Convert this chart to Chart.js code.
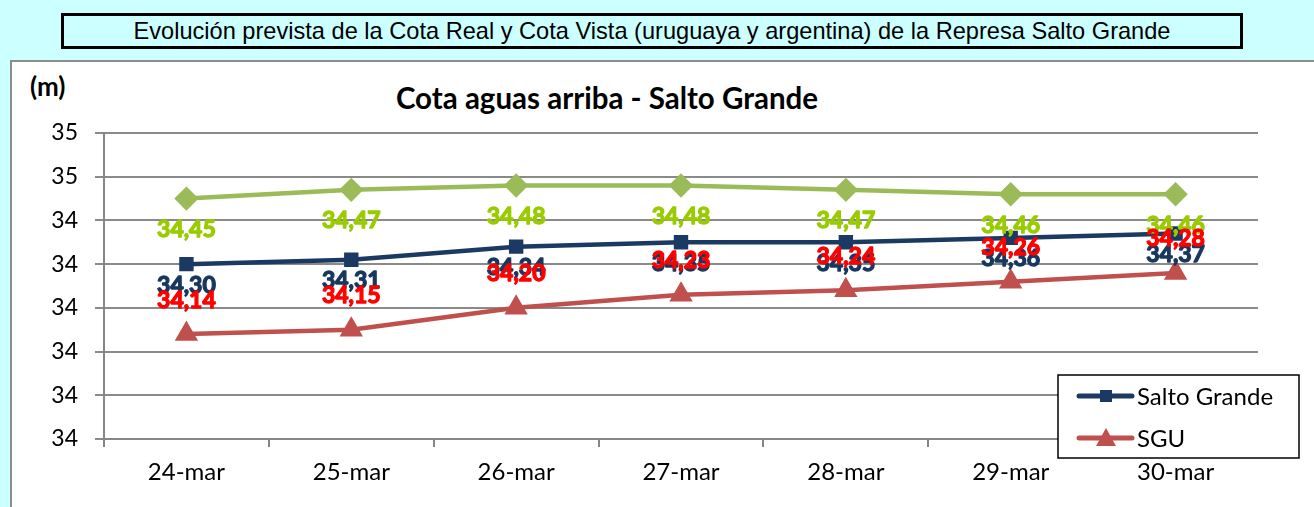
<!DOCTYPE html>
<html>
<head>
<meta charset="utf-8">
<script src="https://cdn.jsdelivr.net/npm/chart.js@4/dist/chart.umd.min.js"></script>
<style>
  html, body { margin: 0; padding: 0; }
  body { width: 1314px; height: 507px; background: #ccffff; position: relative; overflow: hidden; font-family: Lato, sans-serif; }
  #cabecera {
    position: absolute; left: 61px; top: 13px; width: 1176px; height: 30px;
    border: 3px solid #000; background: #ccffff;
    font-family: "Liberation Sans", Arial, sans-serif; font-size: 23.6px;
    text-align: center; line-height: 31px; color: #000; white-space: nowrap;
  }
  #marco {
    position: absolute; left: 10px; top: 60px; width: 1320px; height: 460px;
    border: 2px solid #8c8c8c; background: #fff;
  }
  #contenedor { position: absolute; left: 12px; top: 62px; width: 1302px; height: 445px; }
  #unidad { position: absolute; left: 30px; top: 70px; font-family: Lato, sans-serif; font-weight: bold; font-size: 26px; color: #000; }
  #titulo { position: absolute; left: 0; width: 1214px; top: 80px; text-align: center; font-family: Lato, sans-serif; font-weight: bold; font-size: 29.5px; color: #000; }
</style>
</head>
<body>
<div id="cabecera">Evolución prevista de la Cota Real y Cota Vista (uruguaya y argentina) de la Represa Salto Grande</div>
<div id="marco"></div>
<div id="unidad">(m)</div>
<div id="titulo">Cota aguas arriba - Salto Grande</div>
<div id="contenedor"><canvas id="grafica"></canvas></div>

<script>
// Datos
const fechas = ["24-mar", "25-mar", "26-mar", "27-mar", "28-mar", "29-mar", "30-mar"];
const cotaVista = [34.45, 34.47, 34.48, 34.48, 34.47, 34.46, 34.46];
const saltoGrande = [34.30, 34.31, 34.34, 34.35, 34.35, 34.36, 34.37];
const sgu = [34.14, 34.15, 34.20, 34.23, 34.24, 34.26, 34.28];

const yMin = 33.9;
const yMax = 34.6;
const yPaso = 0.1;

// Etiquetas de valor (coma decimal), desplazadas como en el original
const etiquetasValor = {
  id: "etiquetasValor",
  afterDatasetsDraw(chart) {
    const ctx = chart.ctx;
    ctx.save();
    ctx.font = "bold 23px Lato, sans-serif";
    ctx.textAlign = "center";
    ctx.textBaseline = "middle";
    ctx.lineWidth = 1.3;
    ctx.lineJoin = "round";
    chart.data.datasets.forEach((ds, i) => {
      const meta = chart.getDatasetMeta(i);
      ctx.fillStyle = ds.colorEtiqueta;
      ctx.strokeStyle = ds.colorEtiqueta;
      meta.data.forEach((pt, j) => {
        const txt = ds.data[j].toFixed(2).replace(".", ",");
        // trazo extra para que se vea en negrita
        ctx.strokeText(txt, pt.x, pt.y + ds.despEtiqueta);
        ctx.fillText(txt, pt.x, pt.y + ds.despEtiqueta);
      });
    });
    ctx.restore();
  }
};

// Leyenda en recuadro dentro del area (solo Salto Grande y SGU)
const leyendaCaja = {
  id: "leyendaCaja",
  afterDraw(chart) {
    const ctx = chart.ctx;
    const x0 = 1046, y0 = 313, w = 241, h = 83;
    ctx.save();
    ctx.fillStyle = "#fff";
    ctx.fillRect(x0, y0, w, h);
    ctx.strokeStyle = "#000";
    ctx.lineWidth = 1.5;
    ctx.strokeRect(x0, y0, w, h);
    const items = chart.data.datasets.filter(d => d.enLeyenda);
    items.forEach((ds, k) => {
      const cy = y0 + 21 + k * 42;
      ctx.strokeStyle = ds.borderColor;
      ctx.lineWidth = 5;
      ctx.lineCap = "round";
      ctx.beginPath();
      ctx.moveTo(x0 + 21, cy);
      ctx.lineTo(x0 + 74, cy);
      ctx.stroke();
      ctx.fillStyle = ds.pointBackgroundColor;
      const mx = x0 + 48;
      if (ds.pointStyle === "rect") {
        ctx.fillRect(mx - 6, cy - 6, 12, 12);
      } else if (ds.pointStyle === "triangle") {
        ctx.beginPath();
        ctx.moveTo(mx, cy - 10);
        ctx.lineTo(mx + 10, cy + 8);
        ctx.lineTo(mx - 10, cy + 8);
        ctx.closePath();
        ctx.fill();
      }
      ctx.fillStyle = "#000";
      ctx.font = "24px Lato, sans-serif";
      ctx.textAlign = "left";
      ctx.textBaseline = "middle";
      ctx.fillText(ds.label, x0 + 79, cy + 1);
    });
    ctx.restore();
  }
};

const ctx = document.getElementById("grafica").getContext("2d");
new Chart(ctx, {
  type: "line",
  data: {
    labels: fechas,
    datasets: [
      {
        label: "Cota Vista",
        data: cotaVista,
        borderColor: "#9bbb59",
        backgroundColor: "#9bbb59",
        pointBackgroundColor: "#9bbb59",
        pointBorderColor: "#9bbb59",
        pointStyle: "rectRot",
        pointRadius: 9,
        borderWidth: 4.5,
        colorEtiqueta: "#99cc00",
        despEtiqueta: 31,
        enLeyenda: false
      },
      {
        label: "Salto Grande",
        data: saltoGrande,
        borderColor: "#1b3a63",
        backgroundColor: "#1b3a63",
        pointBackgroundColor: "#1b3a63",
        pointBorderColor: "#1b3a63",
        pointStyle: "rect",
        pointRadius: 7,
        borderWidth: 4.5,
        colorEtiqueta: "#17375e",
        despEtiqueta: 21,
        enLeyenda: true
      },
      {
        label: "SGU",
        data: sgu,
        borderColor: "#c0504d",
        backgroundColor: "#c0504d",
        pointBackgroundColor: "#c0504d",
        pointBorderColor: "#c0504d",
        pointStyle: "triangle",
        pointRadius: 9,
        borderWidth: 4.5,
        colorEtiqueta: "#ff0000",
        despEtiqueta: -34,
        enLeyenda: true
      }
    ]
  },
  options: {
    responsive: true,
    maintainAspectRatio: false,
    animation: false,
    layout: { padding: { left: 0, right: 56, top: 71, bottom: 0 } },
    plugins: {
      legend: { display: false },
      title: { display: false },
      tooltip: { enabled: false }
    },
    scales: {
      x: {
        offset: true,
        grid: { offset: true, drawOnChartArea: false, drawTicks: true, tickLength: 8, color: "#868686", lineWidth: 2 },
        border: { display: true, color: "#868686", width: 2 },
        ticks: { color: "#000", font: { family: "Lato, sans-serif", size: 24 }, padding: 11, maxRotation: 0 },
        afterFit(scale) { scale.height = 68; }
      },
      y: {
        min: yMin,
        max: yMax,
        grid: { color: "#8a8a8a", lineWidth: 2, drawTicks: true, tickLength: 9 },
        border: { display: true, color: "#868686", width: 2 },
        ticks: {
          stepSize: yPaso,
          color: "#000",
          font: { family: "Lato, sans-serif", size: 23 },
          padding: 17,
          callback: v => String(Math.round(v + 1e-9))
        },
        afterFit(scale) { scale.width = 92; }
      }
    }
  },
  plugins: [etiquetasValor, leyendaCaja]
});
</script>
</body>
</html>
